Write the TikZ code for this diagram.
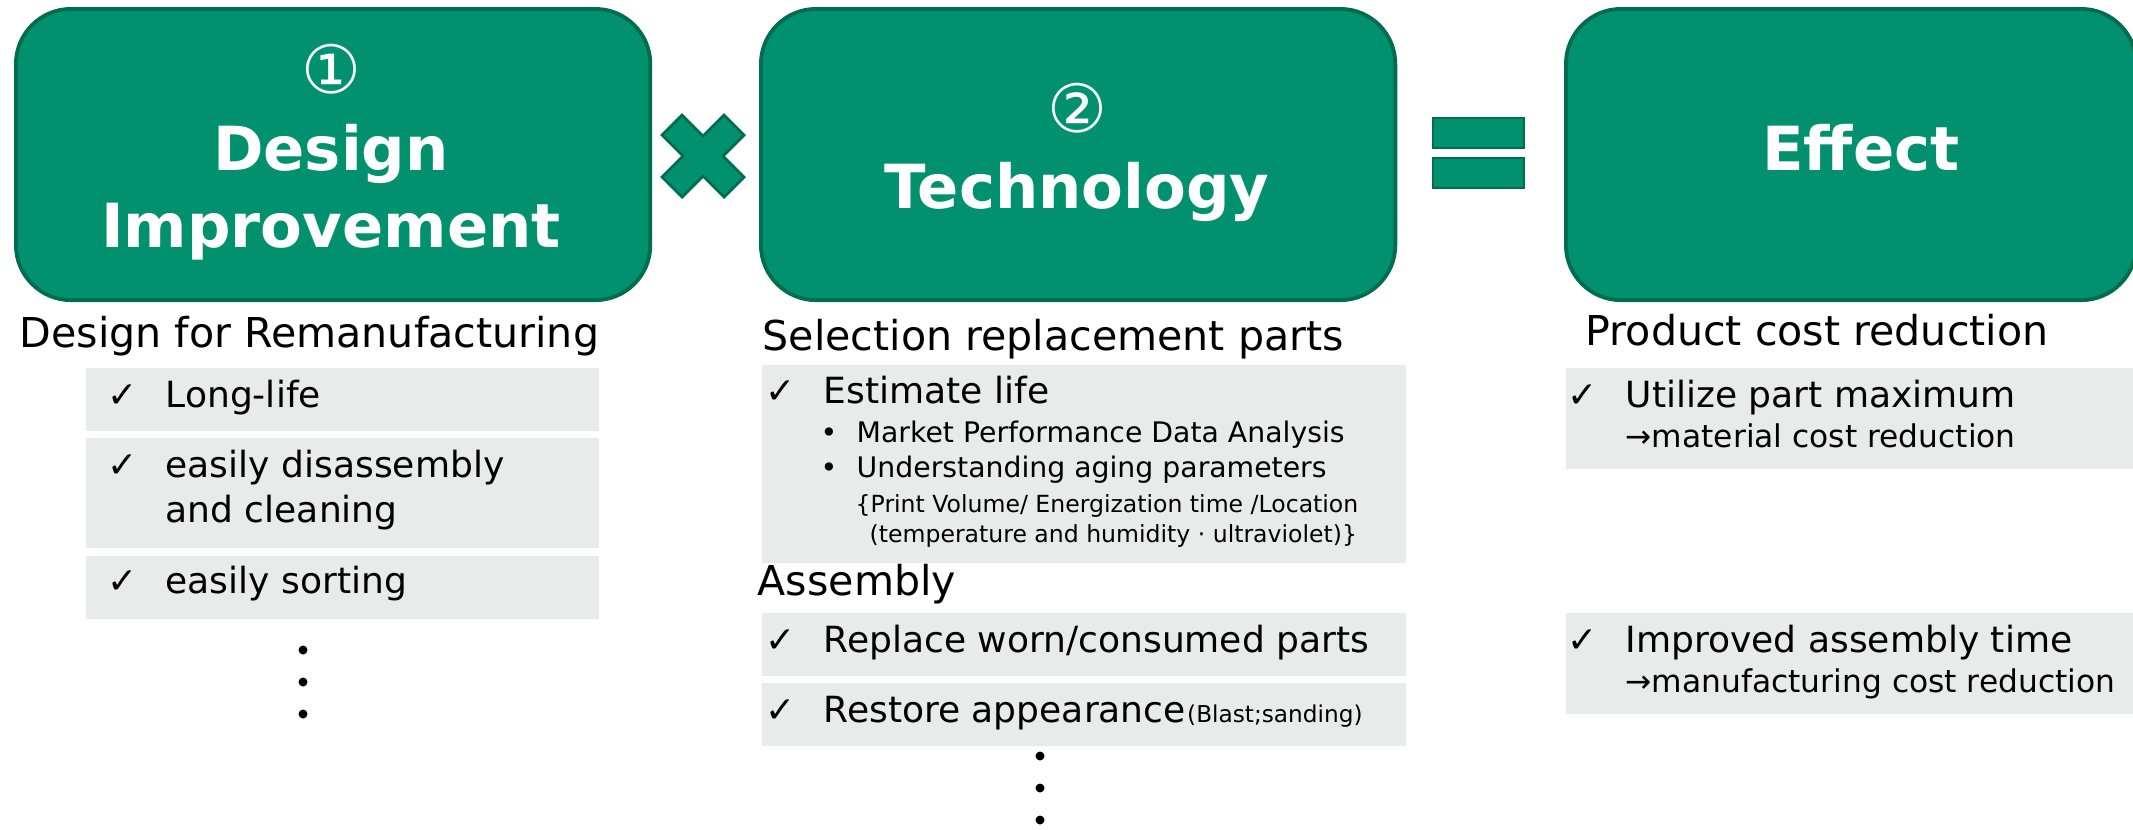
\documentclass[tikz,border=0pt]{standalone}
\usepackage{fontspec}
\setmainfont{DejaVu Sans}
\usetikzlibrary{positioning}
\definecolor{boxgreen}{RGB}{2,145,110}
\definecolor{edgegreen}{RGB}{0,108,80}
\definecolor{listgray}{RGB}{231,236,234}
\tikzset{
	bigbox/.style={
		rectangle,
		rounded corners=0.55cm,
		draw=edgegreen, line width=1.1pt,
		fill=boxgreen,
		minimum height=2.91cm,
		anchor=north west,
		inner sep=0pt,
	},
	boxtitle/.style={text=white, inner sep=0pt, font=\fontsize{17.3}{21}\selectfont\bfseries},
	circnum/.style={text=white, inner sep=0pt, font=\fontsize{19}{23}\selectfont},
	head/.style={anchor=base west, inner sep=0pt, font=\fontsize{11.7}{14}\selectfont},
	band/.style={rectangle, fill=listgray, anchor=north west, inner sep=0pt},
	item/.style={anchor=base west, inner sep=0pt, align=left, font=\fontsize{10.25}{12.8}\selectfont},
	subitem/.style={anchor=base west, inner sep=0pt, font=\fontsize{8.05}{9}\selectfont},
	note/.style={anchor=base west, inner sep=0pt, font=\fontsize{6.7}{8}\selectfont},
	effnote/.style={anchor=base west, inner sep=0pt, font=\fontsize{8.9}{10}\selectfont},
	sign/.style={fill=boxgreen, draw=edgegreen, line width=0.8pt},
}

\begin{document}
\begin{tikzpicture}[x=0.01cm, y=-0.01cm]
	\useasboundingbox (0,0) rectangle (2133,829);

	% the three big boxes
	\node[bigbox, minimum width=6.34cm] (design) at (14,7) {};
	\node[bigbox, minimum width=6.34cm] (tech) at (759,7) {};
	\node[bigbox, minimum width=5.70cm] (effect) at (1564,7) {};

	\node[circnum] (n1) at (331,69) {①};
	\node[boxtitle, anchor=base] (d1) at (331,170) {Design};
	\node[boxtitle, anchor=base] (d2) at (331,247) {Improvement};
	\node[circnum] (n2) at (1077,108) {②};
	\node[boxtitle, anchor=base] (t1) at (1077,208) {Technology};
	\node[boxtitle, anchor=base] (e1) at (1861,170) {Effect};

	% times and equals
	\draw[sign] (703,156) ++(-41,-21) -- ++(20,-20) -- ++(21,21) -- ++(21,-21) -- ++(20,20)
		-- ++(-21,21) -- ++(21,21) -- ++(-20,20) -- ++(-21,-21) -- ++(-21,21) -- ++(-20,-20) -- ++(21,-21) -- cycle;
	\draw[sign] (1433,118) rectangle (1524,148);
	\draw[sign] (1433,158) rectangle (1524,188);

	% design column
	\node[head] (hd) at (19,347) {Design for Remanufacturing};
	\node[band, minimum width=5.13cm, minimum height=0.63cm] (b1) at (85,367) {};
	\node[band, minimum width=5.13cm, minimum height=1.10cm] (b2) at (85,437) {};
	\node[band, minimum width=5.13cm, minimum height=0.63cm] (b3) at (85,555) {};
	\node[item] (k1) at (107,407) {✓};
	\node[item] (i1) at (165,407) {Long-life};
	\node[item] (k2) at (107,477) {✓};
	\node[item] (i2) at (165,522) {easily disassembly\\and cleaning};
	\node[item] (k3) at (107,593) {✓};
	\node[item] (i3) at (165,593) {easily sorting};
	\foreach \yy in {650,682,714} \fill (303,\yy) circle (4.5);

	% technology column
	\node[head] (ht) at (762,350) {Selection replacement parts};
	\node[band, minimum width=6.44cm, minimum height=1.98cm] (b4) at (761,364) {};
	\node[item] (k4) at (765,403) {✓};
	\node[item] (i4) at (823,403) {Estimate life};
	\node[subitem] (s1) at (820,442) {•};
	\node[subitem] (s1t) at (856,442) {Market Performance Data Analysis};
	\node[subitem] (s2) at (820,477) {•};
	\node[subitem] (s2t) at (856,477) {Understanding aging parameters};
	\node[note] (p1) at (855,512) {\{Print Volume/ Energization time /Location};
	\node[note] (p2) at (869,542) {(temperature and humidity · ultraviolet)\}};
	\node[head] (ha) at (757,595) {Assembly};
	\node[band, minimum width=6.44cm, minimum height=0.63cm] (b5) at (761,612) {};
	\node[band, minimum width=6.44cm, minimum height=0.63cm] (b6) at (761,682) {};
	\node[item] (k5) at (765,652) {✓};
	\node[item] (i5) at (823,652) {Replace worn/consumed parts};
	\node[item] (k6) at (765,722) {✓};
	\node[item] (i6) at (823,722) {Restore appearance};
	\node[note, font=\fontsize{6.6}{8}\selectfont] (i6b) at (i6.base east) {(Blast;sanding)};
	\foreach \yy in {756,788,820} \fill (1040,\yy) circle (4.5);

	% effect column
	\node[head] (he) at (1585,345) {Product cost reduction};
	\node[band, minimum width=5.70cm, minimum height=1.01cm] (b7) at (1565,367) {};
	\node[band, minimum width=5.70cm, minimum height=1.01cm] (b8) at (1565,612) {};
	\node[item] (k7) at (1567,407) {✓};
	\node[item] (i7) at (1625,407) {Utilize part maximum};
	\node[effnote] (i7b) at (1625,447) {→material cost reduction};
	\node[item] (k8) at (1567,652) {✓};
	\node[item] (i8) at (1625,652) {Improved assembly time};
	\node[effnote] (i8b) at (1625,692) {→manufacturing cost reduction};
\end{tikzpicture}
\end{document}
